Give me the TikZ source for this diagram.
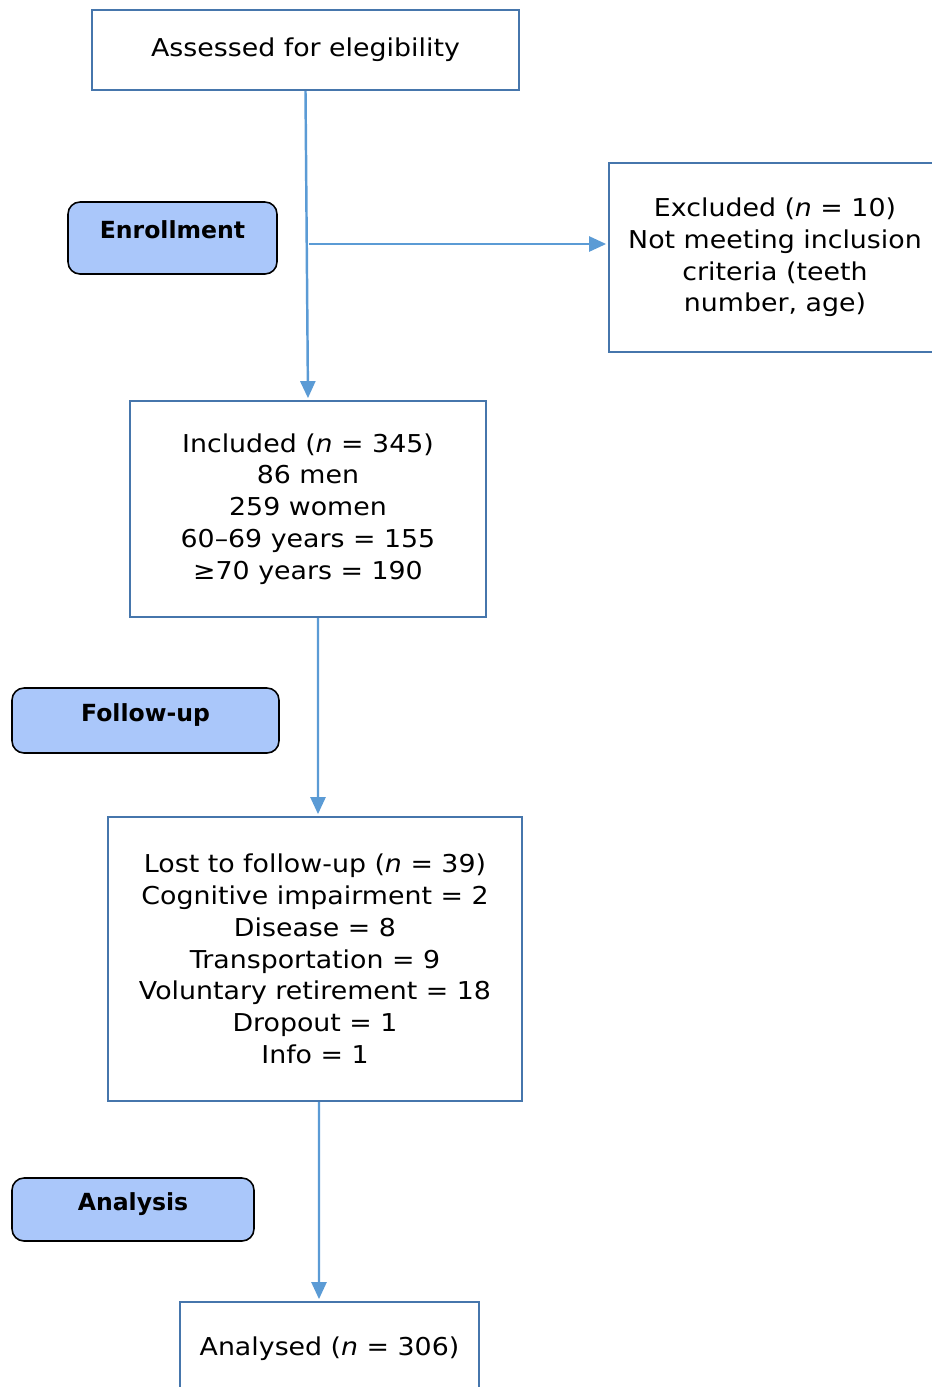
\documentclass[tikz,border=0pt]{standalone}
\usepackage{fontspec}
\setmainfont{DejaVu Sans}[FakeStretch=1.09]
\newfontfamily\phasefont{DejaVu Sans Bold}
\usepackage{tikz}
\usetikzlibrary{arrows.meta}
\definecolor{boxline}{RGB}{70,118,172}
\definecolor{flowline}{RGB}{91,155,213}
\definecolor{phasefill}{RGB}{170,199,250}

\begin{document}
\begin{tikzpicture}
[x=0.02cm,y=-0.02cm,
box/.style={draw=boxline,line width=1.3pt,align=center,inner sep=0pt,
  font=\fontsize{14pt}{18.1pt}\selectfont},
phase/.style={draw=black,line width=0.9pt,fill=phasefill,rounded corners=0.24cm,
  inner sep=0pt,font=\fontsize{13.4pt}{15pt}\phasefont},
flow/.style={draw=flowline,line width=1.4pt,-{Triangle[length=0.34cm,width=0.3cm]},shorten >=1pt}]
\useasboundingbox (0,0) rectangle (932,1387);
\clip (0,0) rectangle (932,1387);

% main boxes
\node[box,minimum width=8.54cm,minimum height=1.6cm]  at (305.5,50)   (assess)   {Assessed for elegibility};
\node[box,minimum width=6.64cm,minimum height=3.78cm] at (775,257.5)  (excluded) {Excluded (\textit{n} = 10)\\Not meeting inclusion\\criteria (teeth\\number, age)};
\node[box,minimum width=7.12cm,minimum height=4.32cm] at (308,509)    (included) {Included (\textit{n} = 345)\\86 men\\259 women\\60--69 years = 155\\≥70 years = 190};
\node[box,minimum width=8.28cm,minimum height=5.68cm] at (315,959)    (lost)     {Lost to follow-up (\textit{n} = 39)\\Cognitive impairment = 2\\Disease = 8\\Transportation = 9\\Voluntary retirement = 18\\Dropout = 1\\Info = 1};
\node[box,minimum width=5.98cm,minimum height=1.88cm] at (329.5,1349) (analysed) {Analysed (\textit{n} = 306)};

% phase labels
\node[phase,minimum width=4.18cm,minimum height=1.44cm,text depth=0.32cm] at (172.5,238)   (enrol)  {Enrollment};
\node[phase,minimum width=5.34cm,minimum height=1.3cm,text depth=0.3cm]   at (145.5,720.5) (follow) {Follow-up};
\node[phase,minimum width=4.84cm,minimum height=1.26cm,text depth=0.3cm]  at (133,1209.5)  (anal)   {Analysis};

% connectors
\coordinate (split) at (309,244);
\draw[flow] (assess.south) -- (included.north);
\draw[flow] (split) -- (split -| excluded.west);
\draw[flow] ([xshift=0.2cm]included.south) -- ([xshift=0.06cm]lost.north);
\draw[flow] ([xshift=0.08cm]lost.south) -- ([xshift=-0.21cm]analysed.north);
\end{tikzpicture}
\end{document}
